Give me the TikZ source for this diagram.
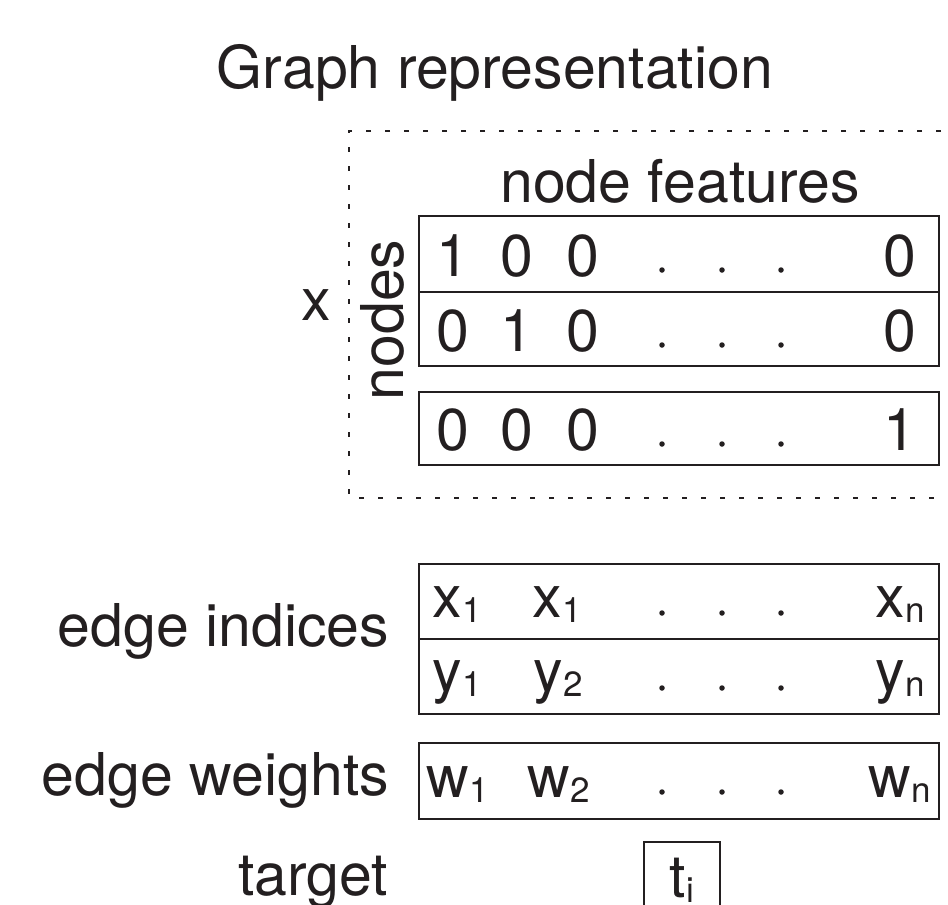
\documentclass[tikz,border=0pt]{standalone}
\usepackage{fontspec}
\setmainfont{TeX Gyre Heros}
\definecolor{ink}{HTML}{231F20}
\newcommand{\mysub}[1]{\raisebox{-5pt}{\fontsize{35}{35}\selectfont #1}}
\begin{document}
\begin{tikzpicture}[x=1pt,y=-1pt,
  every node/.style={inner sep=0pt, outer sep=0pt, text=ink, font=\fontsize{59}{60}\selectfont},
  rowbox/.style={draw=ink, line width=2.2pt, minimum width=520pt},
  tbox/.style={draw=ink, line width=2.2pt, minimum width=76pt, minimum height=80pt},
  cell/.style={anchor=base},
  lbl/.style={anchor=base east},
  dotmark/.style={circle, fill=ink, minimum size=5.5pt},
  frame/.style={draw=ink, line width=2pt, dash pattern=on 5pt off 14pt}]
\useasboundingbox (0,0) rectangle (948,905);
\clip (0,0) rectangle (948,905);

% titles and labels
\node[cell] (title) at (495,88) {Graph representation};
\node[cell] (nf) at (680,202) {node features};
\node[cell] (xl) at (316,320) {x};
\node[anchor=base, rotate=90] (nodesl) at (403,320) {nodes};

% dotted frame
\coordinate (ftr) at (960,131);
\coordinate (ftl) at (349,131);
\coordinate (fbl) at (349,498);
\coordinate (fbr) at (960,498);
\draw[frame] (ftr) -- (ftl) -- (fbl) -- (fbr);

% node feature rows
\node[rowbox, minimum height=76pt] (r1) at (679,254) {};
\node[rowbox, minimum height=74pt] (r2) at (679,329) {};
\node[rowbox, minimum height=73pt] (r3) at (679,428.5) {};

\foreach \r/\yb/\yd/\a/\b/\c/\d in {1/276/270/1/0/0/0, 2/351/345/0/1/0/0, 3/450/444/0/0/0/1} {
  \node[cell] (n\r-a) at (453,\yb) {\a};
  \node[cell] (n\r-b) at (517,\yb) {\b};
  \node[cell] (n\r-c) at (582.5,\yb) {\c};
  \node[dotmark] (n\r-d1) at (662,\yd) {};
  \node[dotmark] (n\r-d2) at (722,\yd) {};
  \node[dotmark] (n\r-d3) at (781,\yd) {};
  \node[cell] (n\r-e) at (900,\yb) {\d};
}

% edge indices
\node[lbl] (eil) at (389,646) {edge indices};
\node[rowbox, minimum height=75pt] (e1) at (679,601.5) {};
\node[rowbox, minimum height=75pt] (e2) at (679,676.5) {};

\node[cell] (e1-a) at (457,617) {x\mysub{1}};
\node[cell] (e1-b) at (557,617) {x\mysub{1}};
\node[cell] (e1-e) at (900,617) {x\mysub{n}};
\node[cell] (e2-a) at (457,691) {y\mysub{1}};
\node[cell] (e2-b) at (558,691) {y\mysub{2}};
\node[cell] (e2-e) at (900,691) {y\mysub{n}};

% edge weights
\node[lbl] (ewl) at (389,795) {edge weights};
\node[rowbox, minimum height=76pt] (w) at (679,781) {};
\node[cell] (w-a) at (458,797) {w\mysub{1}};
\node[cell] (w-b) at (559,797) {w\mysub{2}};
\node[cell] (w-e) at (900,797) {w\mysub{n}};

\foreach \nm/\yd in {e1/613, e2/688, w/792} {
  \node[dotmark] (\nm-d1) at (662,\yd) {};
  \node[dotmark] (\nm-d2) at (722,\yd) {};
  \node[dotmark] (\nm-d3) at (781,\yd) {};
}

% target
\node[lbl] (tl) at (388,895) {target};
\node[tbox] (t) at (682,882) {};
\node[cell] (t-i) at (682,897) {t\mysub{i}};
\end{tikzpicture}
\end{document}
